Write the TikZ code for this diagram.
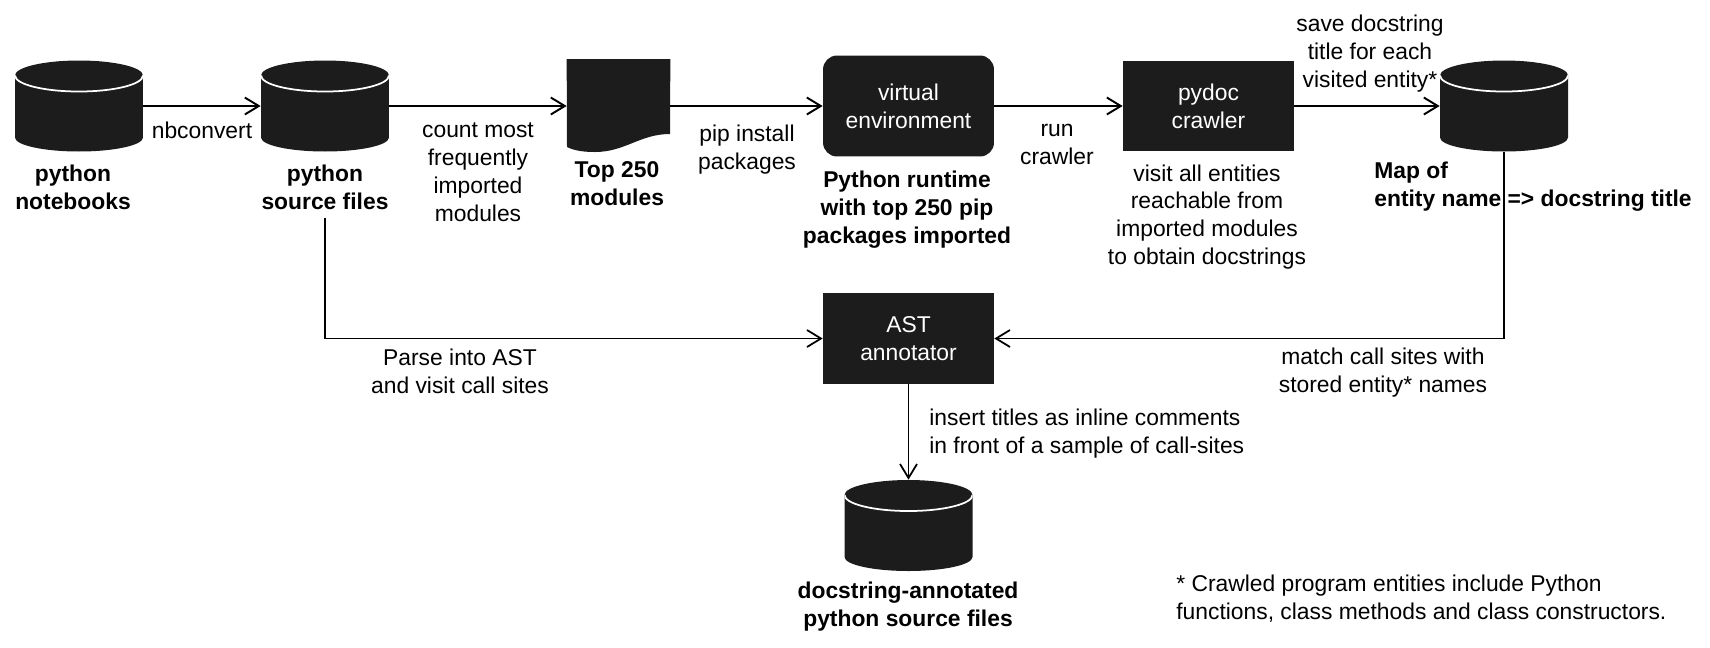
\documentclass[tikz,border=0pt]{standalone}
\usepackage{fontspec}
\setmainfont{Liberation Sans}
\usepackage{xcolor}
\usetikzlibrary{arrows.meta, calc}
\definecolor{boxblack}{HTML}{1C1C1C}

\begin{document}
\begin{tikzpicture}[
    x=0.02cm,
    y=-0.02cm,
    conn/.style={-{Straight Barb[length=2.8mm, width=3.4mm]}, line width=1.1pt},
    thinconn/.style={conn, line width=1pt},
    store/.style={rectangle, minimum width=2.56cm, minimum height=1.82cm, inner sep=0pt,
        path picture={
            \fill[boxblack] ($(path picture bounding box.north west)+(0,-0.30cm)$)
                arc[start angle=180, end angle=0, x radius=1.28cm, y radius=0.30cm]
                -- ($(path picture bounding box.south east)+(0,0.28cm)$)
                arc[start angle=0, end angle=-180, x radius=1.28cm, y radius=0.28cm] -- cycle;
            \draw[white, line width=1pt] ($(path picture bounding box.north west)+(0,-0.30cm)$)
                arc[start angle=180, end angle=360, x radius=1.28cm, y radius=0.32cm];}},
    darkbox/.style={draw=none, fill=boxblack, text=white, align=center, inner sep=0pt,
        minimum width=3.42cm, font=\fontsize{13}{15.9}\selectfont},
    lab/.style={align=center, inner sep=0pt, font=\fontsize{13}{15.9}\selectfont},
    boldlab/.style={lab, font=\fontsize{13}{15.9}\selectfont\bfseries}
]
\useasboundingbox (0,0) rectangle (1710,647);

% --- Top row ---
\node[store] (notebooks) at (79,106) {};
\node[store] (source) at (325,106) {};
\node[inner sep=0pt, minimum width=2.06cm, minimum height=1.86cm] (modules) at (618.5,106) {};
\fill[boxblack] (modules.north west) -- (modules.north east) -- (670,134)
    .. controls (640,134) and (625,152) .. (595,152)
    .. controls (585,152) and (575,151) .. (567,147) -- cycle;
\node[darkbox, rounded corners=0.28cm, minimum height=2.02cm] (venv) at (908.5,106) {virtual\\environment};
\node[darkbox, minimum height=1.80cm] (crawler) at (1208.5,106) {pydoc\\crawler};
\node[store] (entitymap) at (1504,106) {};

% --- Lower row ---
\node[darkbox, minimum height=1.82cm] (annotator) at (908.5,338.5) {AST\\annotator};
\node[store] (annotated) at (908.5,525.5) {};

% --- Bold captions ---
\node[boldlab] (noteslab) at (73,187) {python\\notebooks};
\node[boldlab] (sourcelab) at (325,187) {python\\source files};
\node[boldlab] (moduleslab) at (617,184) {Top 250\\modules};
\node[boldlab] (venvlab) at (907,210) {Python runtime\\with top 250 pip\\packages imported};
\node[boldlab, align=left, anchor=west] (maplab) at (1374,186.5) {Map of\\entity name => docstring title};
\node[boldlab] (annotatedlab) at (908,607) {docstring-annotated\\python source files};

% --- Connector labels ---
\node[lab] (convertlab) at (202,130) {nbconvert};
\node[lab] (countlab) at (478,172.5) {count most\\frequently\\imported\\modules};
\node[lab] (piplab) at (747,150) {pip install\\packages};
\node[lab] (runlab) at (1057,144.5) {run\\crawler};
\node[lab] (visitlab) at (1207,217) {visit all entities\\reachable from\\imported modules\\to obtain docstrings};
\node[lab] (savelab) at (1370,54) {save docstring\\title for each\\visited entity*};
\node[lab] (parselab) at (460,371.5) {Parse into AST\\and visit call sites};
\node[lab] (matchlab) at (1383,372.5) {match call sites with\\stored entity* names};
\node[lab, align=left, anchor=west] (insertlab) at (929,433.5) {insert titles as inline comments\\in front of a sample of call-sites};
\node[lab, align=left, anchor=west] (notelab) at (1176,598.5) {* Crawled program entities include Python\\functions, class methods and class constructors.};

% --- Connectors ---
\draw[conn] (notebooks) -- (source);
\draw[conn] (source) -- (modules);
\draw[conn] (modules) -- (venv);
\draw[conn] (venv) -- (crawler);
\draw[conn] (crawler) -- (entitymap);
\draw[thinconn] (sourcelab.south) ++(0,8) |- (annotator);
\draw[thinconn] (entitymap) |- (annotator);
\draw[thinconn] (annotator) -- (annotated);

\end{tikzpicture}
\end{document}
